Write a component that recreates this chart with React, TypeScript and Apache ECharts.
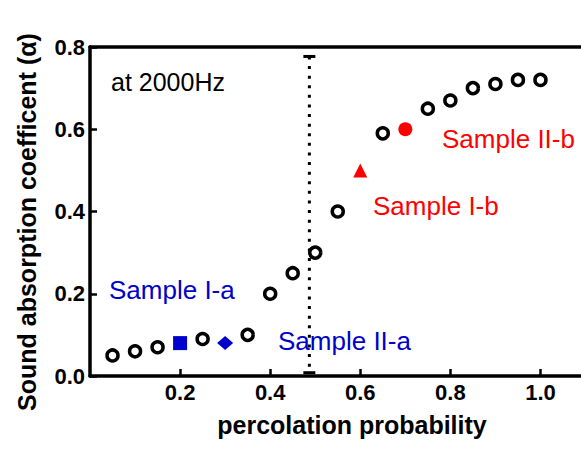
import React, { useEffect, useRef } from "react";
import * as echarts from "echarts";

// Data
const circleX = [0.05, 0.1, 0.15, 0.25, 0.35, 0.4, 0.45, 0.5, 0.55, 0.65, 0.75, 0.8, 0.85, 0.9, 0.95, 1.0];
const circleY = [0.05, 0.06, 0.07, 0.09, 0.1, 0.2, 0.25, 0.3, 0.4, 0.59, 0.65, 0.67, 0.7, 0.71, 0.72, 0.72];
const sampleIa = [0.2, 0.08];
const sampleIIa = [0.3, 0.08];
const sampleIb = [0.6, 0.5];
const sampleIIb = [0.7, 0.6];
const thresholdX = 0.487;
const thresholdRange = [0.008, 0.777];
const xTicks = [0.2, 0.4, 0.6, 0.8, 1.0];
const yTicks = [0.0, 0.2, 0.4, 0.6, 0.8];

const FONT = "'Liberation Sans', Arial, sans-serif";
const BLUE = "#0000cc";
const RED = "#ff0000";

export default function App() {
  const ref = useRef<HTMLDivElement>(null);
  useEffect(() => {
    if (!ref.current) return;
    const chart = echarts.init(ref.current, null, { renderer: "svg" });
    const labelStyle = {
      color: "#000",
      fontFamily: FONT,
      fontWeight: "bold" as const,
      fontSize: 22,
    };
    chart.setOption({
      animation: false,
      grid: { left: 90, right: 0, top: 47, bottom: 74 },
      xAxis: [
        {
          type: "value",
          min: 0,
          max: 1.09,
          axisLine: { show: true, lineStyle: { color: "#000", width: 3.5 } },
          axisTick: {
            show: true,
            inside: true,
            length: 7,
            lineStyle: { color: "#000", width: 2.5 },
            customValues: xTicks,
          },
          axisLabel: {
            ...labelStyle,
            margin: 5,
            customValues: xTicks,
            formatter: (v: number) => v.toFixed(1),
          },
          splitLine: { show: false },
        },
        {
          type: "value",
          position: "top",
          min: 0,
          max: 1.09,
          axisLine: { show: true, onZero: false, lineStyle: { color: "#000", width: 3.5 } },
          axisTick: { show: false },
          axisLabel: { show: false },
          splitLine: { show: false },
        },
      ],
      yAxis: {
        type: "value",
        min: 0,
        max: 0.8,
        interval: 0.2,
        axisLine: { show: true, lineStyle: { color: "#000", width: 3.5 } },
        axisTick: {
          show: true,
          inside: true,
          length: 7,
          lineStyle: { color: "#000", width: 2.5 },
        },
        axisLabel: {
          ...labelStyle,
          margin: 5,
          customValues: yTicks,
          formatter: (v: number) => v.toFixed(1),
        },
        splitLine: { show: false },
      },
      graphic: [
        {
          type: "text",
          x: 27,
          y: 222,
          rotation: Math.PI / 2,
          style: {
            text: "Sound absorption coefficent (α)",
            fill: "#000",
            font: `bold 25px ${FONT}`,
            textAlign: "center",
            textVerticalAlign: "middle",
          },
        },
        {
          type: "text",
          x: 352,
          y: 425,
          style: {
            text: "percolation probability",
            fill: "#000",
            font: `bold 25px ${FONT}`,
            textAlign: "center",
            textVerticalAlign: "middle",
          },
        },
        {
          type: "text",
          x: 111,
          y: 82,
          style: {
            text: "at 2000Hz",
            fill: "#000",
            font: `25px ${FONT}`,
            textAlign: "left",
            textVerticalAlign: "middle",
          },
        },
        {
          type: "text",
          x: 109,
          y: 290,
          style: { text: "Sample I-a", fill: BLUE, font: `26px ${FONT}`, textAlign: "left", textVerticalAlign: "middle" },
        },
        {
          type: "text",
          x: 278,
          y: 341,
          style: { text: "Sample II-a", fill: BLUE, font: `26px ${FONT}`, textAlign: "left", textVerticalAlign: "middle" },
        },
        {
          type: "text",
          x: 373,
          y: 206,
          style: { text: "Sample I-b", fill: RED, font: `26px ${FONT}`, textAlign: "left", textVerticalAlign: "middle" },
        },
        {
          type: "text",
          x: 442,
          y: 139,
          style: { text: "Sample II-b", fill: RED, font: `26px ${FONT}`, textAlign: "left", textVerticalAlign: "middle" },
        },
      ],
      series: [
        {
          type: "line",
          data: [
            [thresholdX, thresholdRange[1]],
            [thresholdX, thresholdRange[0]],
          ],
          symbol: "none",
          lineStyle: { color: "#000", width: 3, type: [3, 6.6], cap: "butt", opacity: 1 },
          silent: true,
        },
        {
          type: "scatter",
          data: [
            [thresholdX, thresholdRange[0]],
            [thresholdX, thresholdRange[1]],
          ],
          symbol: "rect",
          symbolSize: [12, 3],
          itemStyle: { color: "#000", opacity: 1 },
          silent: true,
        },
        {
          type: "scatter",
          data: circleX.map((x, i) => [x, circleY[i]]),
          symbol: "circle",
          symbolSize: 11,
          itemStyle: { color: "#fff", borderColor: "#000", borderWidth: 3.5, opacity: 1 },
        },
        {
          type: "scatter",
          data: [sampleIa],
          symbol: "rect",
          symbolSize: 14,
          itemStyle: { color: BLUE, opacity: 1 },
        },
        {
          type: "scatter",
          data: [sampleIIa],
          symbol: "diamond",
          symbolSize: [16, 14],
          itemStyle: { color: BLUE, opacity: 1 },
        },
        {
          type: "scatter",
          data: [sampleIb],
          symbol: "triangle",
          symbolSize: 14,
          itemStyle: { color: RED, opacity: 1 },
        },
        {
          type: "scatter",
          data: [sampleIIb],
          symbol: "circle",
          symbolSize: 14,
          itemStyle: { color: RED, opacity: 1 },
        },
      ],
    });
    return () => chart.dispose();
  }, []);
  return (
    <div
      ref={ref}
      style={{ position: "fixed", left: 0, top: 0, width: 581, height: 450, background: "#fff" }}
    />
  );
}
